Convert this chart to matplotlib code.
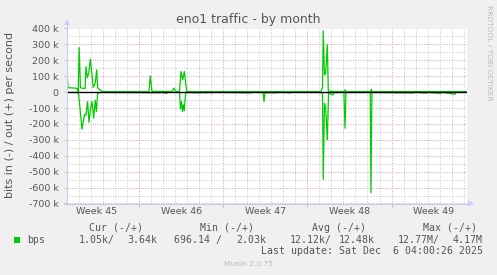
import matplotlib
matplotlib.use("Agg")
import matplotlib.pyplot as plt
from matplotlib.ticker import FixedLocator, FuncFormatter
from matplotlib.patches import Polygon, Rectangle
from matplotlib.lines import Line2D

# ---- data (time in days since left edge of graph, values in bits/s) ----
out_days = [0.00, 0.08, 0.75, 0.87, 0.93, 1.01, 1.12, 1.50, 1.58, 1.69, 1.81, 1.94,
            2.05, 2.18, 2.35, 2.47, 2.55, 2.66, 2.89, 3.08, 6.82, 6.93, 7.07, 8.74,
            8.90, 9.07, 9.36, 9.48, 9.63, 9.76, 9.96, 21.13, 21.26, 21.32, 21.42,
            21.52, 21.66, 21.74, 23.04, 23.13, 23.21, 25.25, 25.32, 25.40, 33.19]
out_k = [140, 28, 25, 20, 3, 280, 27, 22, 160, 90, 120, 207,
         130, 30, 58, 140, 27, 20, 5, 3, 3, 102, 5, 4,
         25, 3, 5, 130, 77, 130, 3, 3, 30, 385, 108,
         120, 298, 5, 3, 15, 3, 3, 18, 3, 3.6]

in_days = [0.00, 0.83, 0.96, 1.08, 1.25, 1.46, 1.58, 1.71, 1.83, 1.96, 2.08, 2.22,
           2.35, 2.45, 2.54, 2.64, 2.75, 7.74, 7.82, 8.29, 8.40, 9.36, 9.44, 9.53,
           9.61, 9.69, 9.76, 9.86, 9.98, 11.2, 11.3, 11.6, 11.7, 12.1, 12.2,
           16.31, 16.39, 16.47, 15.3, 15.4, 17.4, 17.5, 18.6, 18.7,
           21.13, 21.26, 21.32, 21.42, 21.52, 21.66, 21.76, 22.13, 22.21, 23.04,
           23.13, 23.21, 25.23, 25.29, 25.37, 28.8, 28.9, 29.9, 30.0, 31.1, 31.2,
           32.28, 32.36, 33.19]
in_k = [-2, -2, -10, -100, -233, -140, -145, -59, -190, -100, -59, -164,
        -50, -122, -12, -5, -2, -4, -1, -8, -1, -2, -105, -60,
        -122, -80, -116, -10, -2, -5, -1, -5, -1, -5, -1,
        -3, -59, -3, -5, -1, -5, -1, -4, -1,
        -2, -10, -548, -70, -100, -300, -5, -17, -3, -2,
        -227, -2, -2, -632, -2, -5, -1, -6, -1, -8, -1,
        -13, -2, -1]

week_labels = ["Week 45", "Week 46", "Week 47", "Week 48", "Week 49"]
week_centers = [2.5, 9.5, 16.5, 23.5, 30.5]
week_bounds = [6, 13, 20, 27]

legend_head = ["Cur (-/+)", "Min (-/+)", "Avg (-/+)", "Max (-/+)"]
legend_in = ["1.05k/", "696.14 /", "12.12k/", "12.77M/"]
legend_out = ["3.64k", "2.03k", "12.48k", "4.17M"]

# sort "in" by time
pairs = sorted(zip(in_days, in_k))
in_days = [p[0] for p in pairs]
in_k = [p[1] for p in pairs]

W, H = 497, 275
fig = plt.figure(figsize=(W / 100, H / 100), dpi=100, facecolor="#f0f0f0")

def fx(px):
    return px / W

def fy(py):
    return 1 - py / H

L, R, T, B = 67, 467, 28.5, 203.5
ax = fig.add_axes([fx(L), fy(B), (R - L) / W, (B - T) / H])
ax.set_facecolor("white")
for s in ax.spines.values():
    s.set_visible(False)

XMAX = 33.28
ax.set_xlim(0, XMAX)
ax.set_ylim(-700000, 400000)

green = "#00cc00"
ax.plot(out_days, [v * 1000 for v in out_k], color=green, lw=0.9, zorder=3)
ax.plot(in_days, [v * 1000 for v in in_k], color=green, lw=0.9, zorder=3)
ax.axhline(0, color="black", lw=1.0, zorder=4)

# grid
minor_c = "#c4c4c4"
major_c = "#e09a9a"
dots = (0, (1, 1.6))
for d in range(1, 34):
    if d in week_bounds:
        continue
    ax.axvline(d, color=minor_c, lw=0.7, ls=dots, zorder=1)
for d in week_bounds:
    ax.axvline(d, color=major_c, lw=0.7, ls=dots, zorder=1)
for v in range(-700000, 400001, 50000):
    if v % 100000 == 0:
        ax.axhline(v, color=major_c, lw=0.7, ls=dots, zorder=1)
    else:
        ax.axhline(v, color=minor_c, lw=0.7, ls=dots, zorder=1)

txt_c = "#555555"
ax.yaxis.set_major_locator(FixedLocator(list(range(-700000, 400001, 100000))))
ax.yaxis.set_major_formatter(FuncFormatter(
    lambda v, p: "0" if abs(v) < 1 else "%d k" % round(v / 1000)))
ax.tick_params(axis="y", length=2.5, width=0.6, color=major_c, pad=3.5,
               labelsize=6.8, labelcolor=txt_c)
ax.xaxis.set_major_locator(FixedLocator(week_bounds))
ax.xaxis.set_major_formatter(FuncFormatter(lambda v, p: ""))
ax.tick_params(axis="x", length=2.5, width=0.6, color=major_c)

for c, lab in zip(week_centers, week_labels):
    ax.text(c, -0.048, lab, transform=ax.get_xaxis_transform(), ha="center",
            va="center", fontsize=6.8, color=txt_c)

# axis lines and arrows
axis_c = "#c8ccee"
fig.add_artist(Line2D([fx(L), fx(L)], [fy(B + 1), fy(23)], color=axis_c, lw=0.8))
fig.add_artist(Line2D([fx(L - 3), fx(469)], [fy(B), fy(B)], color=axis_c, lw=0.8))
fig.add_artist(Polygon([[fx(L - 3), fy(25)], [fx(L + 3), fy(25)], [fx(L), fy(19)]],
                       closed=True, color="#c8ccff", lw=0))
fig.add_artist(Polygon([[fx(468), fy(B - 3)], [fx(468), fy(B + 3)], [fx(474), fy(B)]],
                       closed=True, color="#c8ccff", lw=0))

# texts
fig.text(fx(248), fy(19), "eno1 traffic - by month", ha="center", va="center",
         fontsize=9, color=txt_c)
fig.text(fx(10), fy(115), "bits in (-) / out (+) per second", ha="center",
         va="center", rotation=90, fontsize=8, color=txt_c)
fig.text(fx(489), fy(53), "RRDTOOL / TOBI OETIKER", ha="center", va="center",
         rotation=270, fontsize=5.4, color="#bbbbbb")

mono = "DejaVu Sans Mono"
ms = 7.1
head_x = [89, 200.3, 311.7, 422.7]
in_x = [78.3, 174, 289.3, 397.3]
out_x = [157.3, 266, 375, 482.7]
for hx, h in zip(head_x, legend_head):
    fig.text(fx(hx), fy(228), h, ha="left", va="center", family=mono,
             fontsize=ms, color=txt_c)
for ix, s in zip(in_x, legend_in):
    fig.text(fx(ix), fy(240), s, ha="left", va="center", family=mono,
             fontsize=ms, color=txt_c)
for ox, s in zip(out_x, legend_out):
    fig.text(fx(ox), fy(240), s, ha="right", va="center", family=mono,
             fontsize=ms, color=txt_c)
fig.text(fx(27), fy(240), "bps", ha="left", va="center", family=mono,
         fontsize=ms, color=txt_c)
fig.add_artist(Rectangle((fx(14), fy(242.5)), 5.5 / W, 5.5 / H, color=green, lw=0))
fig.text(fx(482.7), fy(251.5), "Last update: Sat Dec  6 04:00:26 2025", ha="right",
         va="center", family=mono, fontsize=ms, color=txt_c)
fig.text(fx(248), fy(264), "Munin 2.0.75", ha="center", va="center",
         fontsize=5.4, color="#bbbbbb")

fig.savefig("out.png", dpi=100, facecolor=fig.get_facecolor())
